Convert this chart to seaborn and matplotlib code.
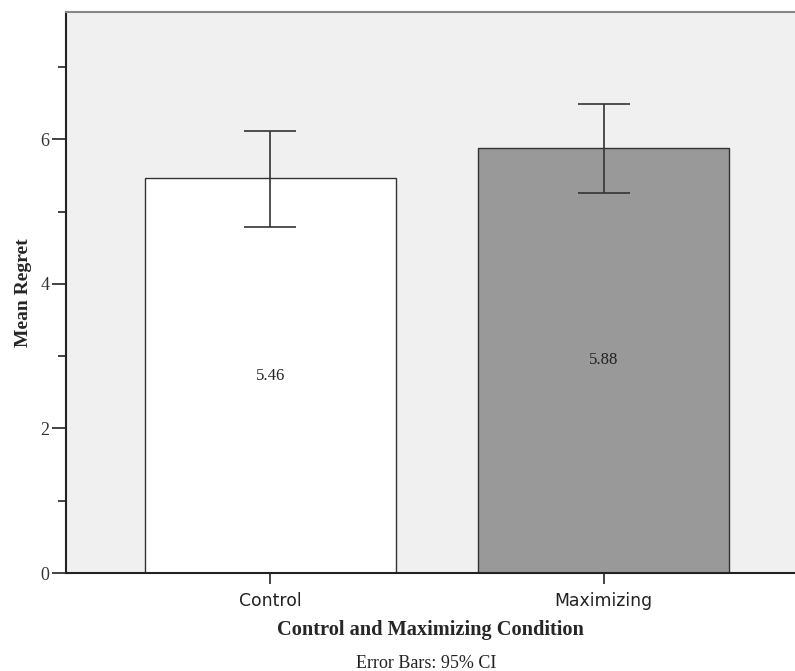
import matplotlib
matplotlib.use("Agg")
import matplotlib.pyplot as plt
import seaborn as sns
import pandas as pd
from matplotlib.ticker import MultipleLocator

categories = ["Control", "Maximizing"]
means = [5.46, 5.88]
ci_low = [4.79, 5.25]
ci_high = [6.11, 6.49]
value_labels = ["5.46", "5.88"]
bar_colors = ["#ffffff", "#999999"]

sns.set_theme(style="white")
plt.rcParams["font.family"] = ["Liberation Serif", "DejaVu Serif"]

df = pd.DataFrame({"cond": categories, "mean": means})

fig = plt.figure(figsize=(7.95, 6.71), dpi=100)
ax = fig.add_axes([66 / 795, 98 / 671, 1 - 66 / 795, (573 - 12) / 671])
ax.set_facecolor("#f0f0f0")

sns.barplot(data=df, x="cond", y="mean", hue="cond", palette=bar_colors,
            order=categories, hue_order=categories, legend=False,
            errorbar=None, width=0.754, edgecolor="#333333", linewidth=1.0, ax=ax)

xs = list(range(len(categories)))
lower = [m - l for m, l in zip(means, ci_low)]
upper = [h - m for m, h in zip(means, ci_high)]
ax.errorbar(xs, means, yerr=[lower, upper], fmt="none", ecolor="#333333",
            elinewidth=1.2, capsize=18.7, capthick=1.2, zorder=5)

for x, m, lab in zip(xs, means, value_labels):
    ax.text(x, m / 2, lab, ha="center", va="center", fontsize=12,
            family=["Liberation Serif"], color="#222222")

ax.set_xlim(-0.614, 1.575)
ax.set_ylim(0, 7.76)
ax.yaxis.set_major_locator(MultipleLocator(2))
ax.yaxis.set_minor_locator(MultipleLocator(1))
ax.tick_params(axis="y", which="major", length=10, width=1.2, color="#222222",
               labelsize=13, pad=2, left=True)
ax.tick_params(axis="y", which="minor", length=6, width=1.2, color="#222222", left=True)
ax.tick_params(axis="x", length=8, width=1.2, color="#222222", bottom=True, pad=6)
for lab in ax.get_yticklabels():
    lab.set_family(["Liberation Serif"])
    lab.set_color("#333333")
for lab in ax.get_xticklabels():
    lab.set_family(["DejaVu Sans"])
    lab.set_fontsize(12.4)
    lab.set_color("#222222")

for side in ["left", "bottom"]:
    ax.spines[side].set_color("#222222")
    ax.spines[side].set_linewidth(1.5)
ax.spines["top"].set_color("#888888")
ax.spines["top"].set_linewidth(1.5)
ax.spines["right"].set_visible(False)

ax.set_xlabel("Control and Maximizing Condition", fontsize=14.7, fontweight="bold",
              family=["Liberation Serif"], labelpad=7)
ax.set_ylabel("Mean Regret", fontsize=14, fontweight="bold",
              family=["Liberation Serif"], labelpad=6)

fig.text(426 / 795, 1 - 664 / 671, "Error Bars: 95% CI", ha="center", va="center",
         fontsize=13, family=["Liberation Serif"], color="#222222")

fig.savefig("out.png", dpi=100)
